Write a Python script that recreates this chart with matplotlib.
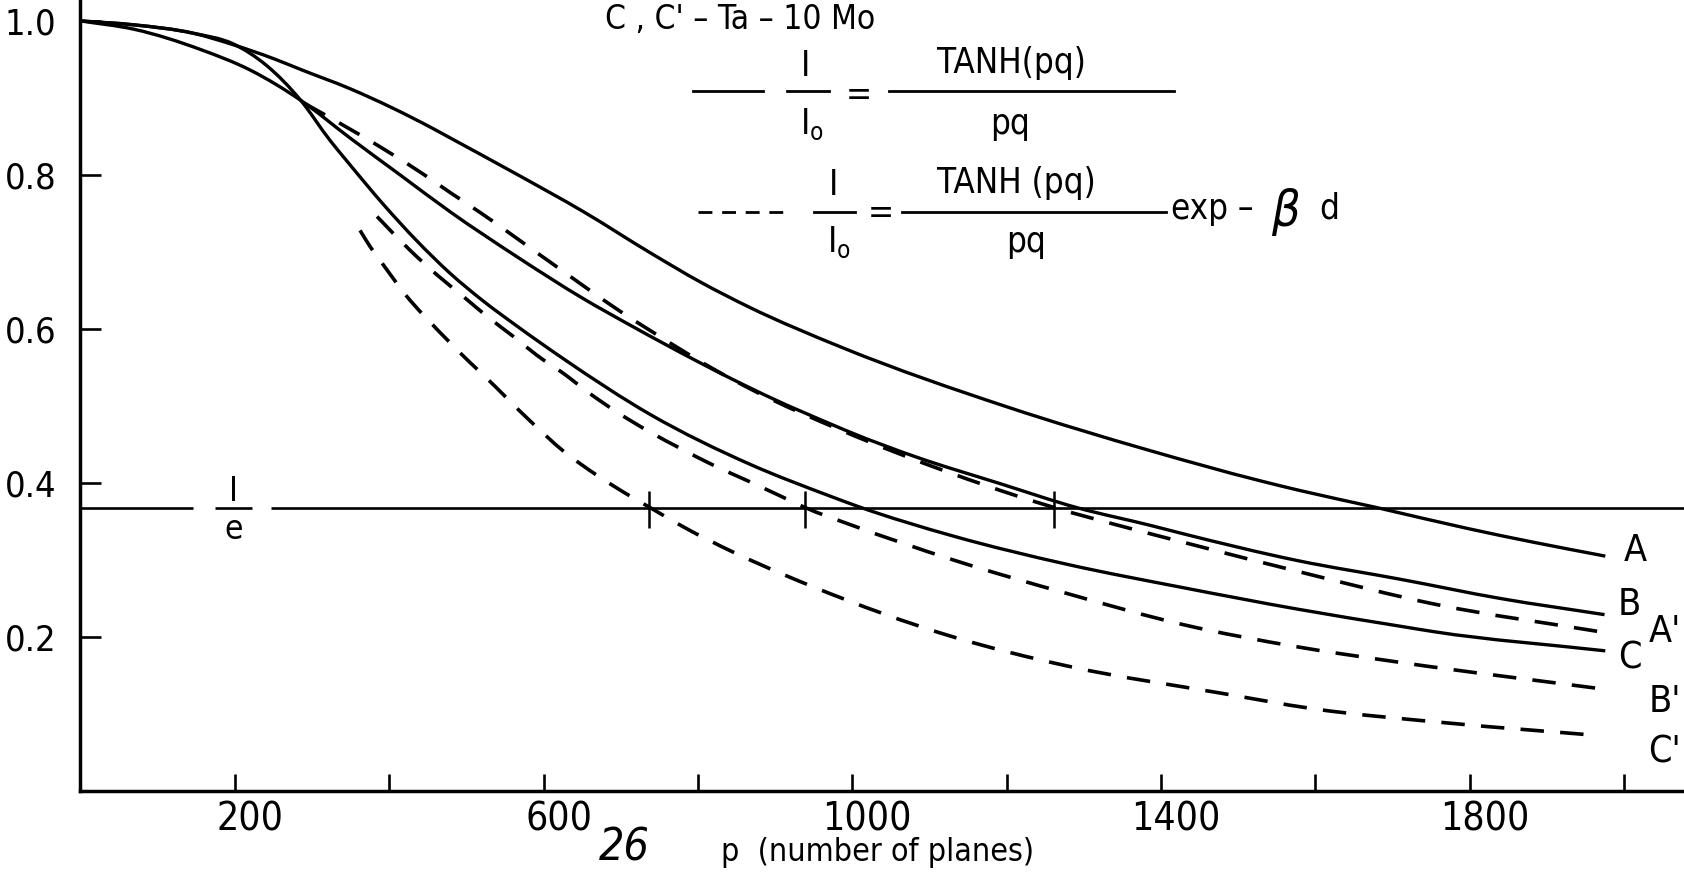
import numpy as np
import matplotlib
matplotlib.use("Agg")
from matplotlib import pyplot as plt
from matplotlib.path import Path
from matplotlib.patches import PathPatch
from matplotlib.transforms import ScaledTranslation

plt.rcParams['font.family'] = ['DejaVu Sans']
plt.rcParams['font.stretch'] = 'condensed'

# p = number of planes, I/Io
p_a = [0, 68, 146, 198, 250, 285, 349, 457, 479, 565, 652, 738, 803, 865, 989,
       1200, 1386, 1528, 1581, 1680, 1797, 1883, 1976]
i_a = [1.000, 0.995, 0.984, 0.969, 0.951, 0.937, 0.912, 0.860, 0.848, 0.801, 0.752,
       0.699, 0.661, 0.629, 0.575, 0.499, 0.442, 0.403, 0.390, 0.368, 0.341, 0.323, 0.305]

p_b = [0, 70, 155, 220, 285, 349, 414, 479, 565, 652, 712, 799, 842, 900, 971, 997,
       1082, 1192, 1291, 1386, 1429, 1578, 1710, 1840, 1975]
i_b = [1.000, 0.989, 0.963, 0.936, 0.897, 0.848, 0.800, 0.752, 0.694, 0.639, 0.605,
       0.558, 0.536, 0.508, 0.477, 0.466, 0.434, 0.399, 0.368, 0.345, 0.334, 0.299,
       0.275, 0.250, 0.229]

p_c = [0, 68, 146, 198, 241, 285, 323, 345, 392, 436, 479, 522, 565, 626, 738, 868,
       971, 1006, 1131, 1280, 1429, 1578, 1710, 1753, 1976]
i_c = [1.000, 0.995, 0.984, 0.970, 0.942, 0.897, 0.845, 0.818, 0.762, 0.714, 0.672,
       0.636, 0.604, 0.561, 0.489, 0.424, 0.383, 0.370, 0.331, 0.294, 0.264, 0.236,
       0.214, 0.207, 0.182]

p_a2 = [290, 362, 405, 444, 479, 518, 548, 587, 618, 660, 699, 738, 820, 872, 989,
        1127, 1214, 1262, 1356, 1429, 1590, 1753, 1974]
i_a2 = [0.893, 0.852, 0.826, 0.801, 0.777, 0.751, 0.730, 0.702, 0.680, 0.650, 0.623,
        0.598, 0.548, 0.520, 0.467, 0.413, 0.383, 0.368, 0.342, 0.323, 0.282, 0.243, 0.206]

p_b2 = [384, 427, 462, 496, 527, 561, 591, 626, 660, 695, 738, 777, 820, 864, 907,
        939, 997, 1131, 1280, 1429, 1578, 1710, 1976]
i_b2 = [0.746, 0.702, 0.670, 0.642, 0.616, 0.590, 0.566, 0.542, 0.516, 0.492, 0.466,
        0.445, 0.423, 0.403, 0.383, 0.368, 0.346, 0.300, 0.256, 0.216, 0.187, 0.167, 0.132]

p_c2 = [362, 375, 388, 427, 449, 505, 522, 583, 626, 669, 712, 738, 781, 846, 911,
        947, 1131, 1280, 1478, 1596, 1775, 1967]
i_c2 = [0.728, 0.707, 0.689, 0.637, 0.613, 0.556, 0.540, 0.480, 0.441, 0.410, 0.383,
        0.368, 0.343, 0.310, 0.281, 0.266, 0.200, 0.162, 0.127, 0.107, 0.088, 0.072]

# where the dashed curves C', B', A' cut the 1/e line
e_cross = [736, 939, 1261]

x_ticks = [200, 400, 600, 800, 1000, 1200, 1400, 1600, 1800, 2000]
x_labels = ['200', '', '600', '', '1000', '', '1400', '', '1800', '']
y_ticks = [0.2, 0.4, 0.6, 0.8, 1.0]
y_labels = ['0.2', '0.4', '0.6', '0.8', '1.0']


def smooth_curve(ax, xs, ys, **kw):
    # cubic Hermite pieces through the points, drawn as one bezier path
    x = np.asarray(xs, float)
    y = np.asarray(ys, float)
    h = np.diff(x)
    s = np.diff(y) / h
    m = np.empty_like(y)
    m[0], m[-1] = s[0], s[-1]
    m[1:-1] = (s[:-1] * h[1:] + s[1:] * h[:-1]) / (h[:-1] + h[1:])
    verts = [(x[0], y[0])]
    codes = [Path.MOVETO]
    for k in range(len(h)):
        d = h[k] / 3
        verts += [(x[k] + d, y[k] + m[k] * d),
                  (x[k + 1] - d, y[k + 1] - m[k + 1] * d),
                  (x[k + 1], y[k + 1])]
        codes += [Path.CURVE4] * 3
    ax.add_patch(PathPatch(Path(verts, codes), fill=False, edgecolor='black',
                           capstyle='butt', **kw))


fig = plt.figure(figsize=(16.84, 8.82), dpi=100)
ax = fig.add_axes([0.0475, 0.1032, 0.9525, 0.8968])
ax.set_xlim(-1, 2078)
ax.set_ylim(0, 1.0272)

lw = 2.4
dash = (0, (6.5, 4.5))
smooth_curve(ax, p_a, i_a, lw=lw)
smooth_curve(ax, p_b, i_b, lw=lw)
smooth_curve(ax, p_c, i_c, lw=lw)
smooth_curve(ax, p_a2, i_a2, lw=2.6, linestyle=dash)
smooth_curve(ax, p_b2, i_b2, lw=2.6, linestyle=dash)
smooth_curve(ax, p_c2, i_c2, lw=2.6, linestyle=dash)

# 1/e level with a gap for its label
inv_e = np.exp(-1)
ax.hlines([inv_e] * 3, [0, 174, 246], [146, 222, 2078], color='black', lw=1.9)
ax.vlines(e_cross, inv_e - 0.026, inv_e + 0.022, color='black', lw=1.8)
ax.text(198, 0.389, 'I', fontsize=24, ha='center', va='center')
ax.text(198, 0.340, 'e', fontsize=24, ha='center', va='center')

# curve names at the right
for name, px, py in [('A', 2000, 0.312), ('B', 1992, 0.241), ("A'", 2032, 0.206),
                     ('C', 1992, 0.172), ("B'", 2032, 0.115), ("C'", 2032, 0.050)]:
    ax.text(px, py, name, fontsize=27, ha='left', va='center')

# key
fs = 25
ax.text(679, 1.002, "C , C' \u2013 Ta \u2013 10 Mo", fontsize=24, ha='left', va='center')

ax.plot([794, 884], [0.9086, 0.9086], color='black', lw=2.0)
ax.text(940, 0.941, 'I', fontsize=fs, ha='center', va='center')
ax.plot([916, 970], [0.9086, 0.9086], color='black', lw=2.0)
ax.text(947, 0.866, r'I$_\mathrm{o}$', fontsize=fs, ha='center', va='center')
ax.text(1009, 0.904, '=', fontsize=fs, ha='center', va='center')
ax.text(1206, 0.946, 'TANH(pq)', fontsize=fs, ha='center', va='center')
ax.plot([1048, 1417], [0.9086, 0.9086], color='black', lw=2.0)
ax.text(1204, 0.866, 'pq', fontsize=fs, ha='center', va='center')

ax.plot([800, 919], [0.7522, 0.7522], color='black', lw=2.0, linestyle=(0, (5, 3.5)))
ax.text(976, 0.787, 'I', fontsize=fs, ha='center', va='center')
ax.plot([951, 1003], [0.7522, 0.7522], color='black', lw=2.0)
ax.text(983, 0.713, r'I$_\mathrm{o}$', fontsize=fs, ha='center', va='center')
ax.text(1037, 0.750, '=', fontsize=fs, ha='center', va='center')
ax.text(1213, 0.789, 'TANH (pq)', fontsize=fs, ha='center', va='center')
ax.plot([1065, 1406], [0.7522, 0.7522], color='black', lw=2.0)
ax.text(1225, 0.713, 'pq', fontsize=fs, ha='center', va='center')
ax.text(1413, 0.756, 'exp \u2013', fontsize=fs, ha='left', va='center')
ax.text(1562, 0.752, '\u03b2', fontsize=36, style='italic', ha='center', va='center')
ax.text(1618, 0.757, 'd', fontsize=fs, ha='center', va='center')

# axes
for side in ['top', 'right']:
    ax.spines[side].set_visible(False)
for side in ['left', 'bottom']:
    ax.spines[side].set_linewidth(2.5)

ax.set_xticks(x_ticks, x_labels, fontsize=28)
ax.set_yticks(y_ticks, y_labels, fontsize=26)
ax.tick_params(axis='x', direction='in', length=12, width=1.9, pad=7)
ax.tick_params(axis='y', direction='in', length=15, width=1.9, pad=17)
shift = ScaledTranslation(15 / 100, 0, fig.dpi_scale_trans)
for lbl in ax.get_xticklabels():
    lbl.set_transform(lbl.get_transform() + shift)

fig.text(0.371, 0.038, '26', fontsize=32, style='italic', ha='center', va='center')
fig.text(0.521, 0.034, 'p  (number of planes)', fontsize=23, ha='center', va='center')

fig.savefig('out.png', dpi=100)
